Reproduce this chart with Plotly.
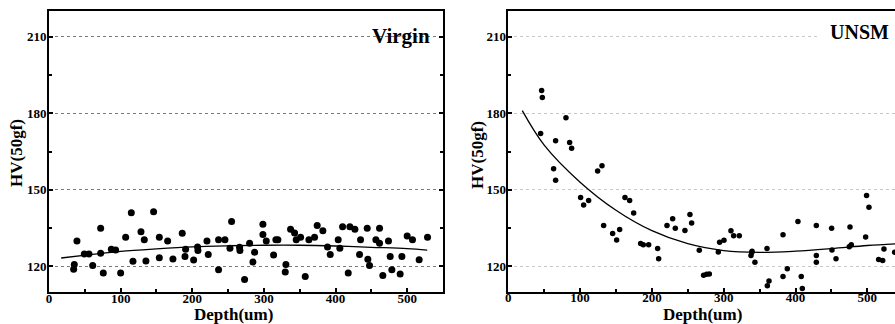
import plotly.graph_objects as go

# ---- Virgin data ----
virgin_depth = [34.4, 35.3, 39, 49.3, 55.8, 61, 72.1, 72.1, 75.8, 87, 93, 100, 107, 114.9, 117.2,
                128.4, 133, 135.3, 146, 154, 154, 165.6, 173, 186, 189.8, 190.7, 201.9, 207.4, 207.9,
                220.5, 222.3, 236.7, 236.7, 245.6, 252.6, 254.9, 266, 266.5, 273, 280, 284.7, 287,
                298.6, 298.6, 303.3, 313.5, 316.7, 319.5, 329.8, 330.7, 337.2, 342.8, 345.1, 351.2,
                357.7, 362.8, 370.7, 374.4, 382.3, 388.8, 392.6, 403.7, 406, 409.8, 417.7, 420, 427,
                434.9, 433.5, 444.2, 445.1, 447.4, 456.3, 461.4, 461.4, 466, 473.9, 476.3, 478.6,
                490.2, 492.6, 500, 507.4, 516.7, 528.4]
virgin_hv = [118.9, 120.8, 130, 124.9, 124.9, 120.4, 135, 125.2, 117.4, 126.7, 126.4, 117.4, 131.4,
             141, 122, 133.6, 130.5, 122.1, 141.4, 131.4, 123.4, 130, 122.9, 133, 123.9, 126.7, 122.5,
             127.6, 126.2, 130, 124.7, 130.5, 118.7, 130.5, 127.1, 137.6, 127.5, 126.2, 114.9, 129.1,
             121.7, 125.6, 136.5, 132.5, 130, 124.5, 130.5, 130.5, 117.8, 120.8, 134.6, 133.1, 130.5,
             131.4, 116.1, 130.5, 131.4, 136, 134, 127.6, 124.7, 130.5, 127.1, 135.5, 117.4, 135.5,
             134.6, 130.5, 124.7, 135, 122.8, 120.4, 130.5, 135, 129.1, 116.5, 130, 123.9, 118.7,
             117, 123.9, 131.9, 130.5, 122.6, 131.4]
virgin_fit_depth = [17, 60, 100, 150, 200, 250, 300, 350, 400, 450, 500, 528]
virgin_fit_hv = [123.3, 124.7, 125.9, 126.9, 127.7, 128.1, 128.3, 128.3, 128.0, 127.5, 127.0, 126.4]

# ---- UNSM data ----
unsm_depth = [46.4, 47.4, 45, 65.9, 63.1, 65.9, 80.3, 85.4, 88.2, 100.7, 104.9, 111.9, 124.4, 130.5,
              132.8, 145.3, 150.9, 155.1, 162.5, 169, 174.6, 184.3, 188, 195.5, 208, 209.4, 221,
              228.9, 232.6, 246, 253, 255.3, 266, 272, 276.2, 280, 292.5, 294.3, 300.4, 310.1,
              313.8, 321.7, 338, 339, 339.5, 343.5, 360.3, 360.8, 363.1, 382.6, 382.6, 388.6,
              403.4, 408, 409.5, 429, 429, 429, 450.3, 450.8, 456.4, 475.9, 474.9, 477.7, 497.7,
              499, 502.3, 515.8, 521.4, 523.2, 538.1]
unsm_hv = [188.9, 186.1, 172, 169.2, 158.2, 153.7, 178.2, 168.5, 166.3, 147, 144.1, 145.8, 157.4,
           159.4, 136, 132.9, 130.4, 134.5, 147, 145.8, 140.9, 129, 128.5, 128.5, 127, 123, 136,
           138.7, 135, 134.1, 140.3, 137, 126.3, 116.6, 116.9, 117, 125.7, 129.5, 130.3, 134, 132,
           132, 124.3, 125.5, 126, 121.6, 127, 112.4, 114.3, 132.4, 116.1, 119.1, 137.6, 116.1,
           111.4, 136, 124.3, 121.6, 135, 126.4, 123, 135.4, 127.7, 128.5, 131.5, 147.8, 143.2,
           122.7, 122.3, 126.8, 125.6]
unsm_fit_depth = [19.5, 50, 100, 150, 200, 250, 300, 350, 400, 450, 500, 540]
unsm_fit_hv = [181, 167.5, 153, 142, 134, 128.9, 126.2, 125.5, 126.0, 127.0, 128.2, 128.9]

x_ticks = [0, 100, 200, 300, 400, 500]
y_ticks = [120, 150, 180, 210]

W, H = 895, 324
FONT = "Liberation Serif"

fig = go.Figure()
fig.add_trace(go.Scatter(x=virgin_depth, y=virgin_hv, mode="markers",
                         marker=dict(color="black", size=7), xaxis="x", yaxis="y",
                         showlegend=False))
fig.add_trace(go.Scatter(x=virgin_fit_depth, y=virgin_fit_hv, mode="lines",
                         line=dict(color="black", width=1.3, shape="spline", smoothing=1.0),
                         xaxis="x", yaxis="y", showlegend=False))
fig.add_trace(go.Scatter(x=unsm_depth, y=unsm_hv, mode="markers",
                         marker=dict(color="black", size=5.5), xaxis="x2", yaxis="y2",
                         showlegend=False))
fig.add_trace(go.Scatter(x=unsm_fit_depth, y=unsm_fit_hv, mode="lines",
                         line=dict(color="black", width=1.3, shape="spline", smoothing=1.0),
                         xaxis="x2", yaxis="y2", showlegend=False))

tickfont = dict(family=FONT, size=13, color="black", weight="bold")

def xax(domain, rng, anchor, lw):
    return dict(domain=domain, range=rng, anchor=anchor, tickvals=x_ticks,
                ticks="inside", ticklen=4, tickwidth=1.5, tickcolor="black",
                minor=dict(dtick=50, tick0=0, ticks="inside", ticklen=3, tickwidth=1.5, tickcolor="black"),
                showline=True, linecolor="black", linewidth=lw, mirror=True,
                showgrid=False, zeroline=False, tickfont=tickfont, automargin=False,
                ticklabelstandoff=-7, fixedrange=True)

def yax(domain, anchor, mirror, lw, gridcolor, gridw):
    return dict(domain=domain, range=[110, 220], anchor=anchor, tickvals=y_ticks,
                ticks="inside", ticklen=4, tickwidth=1.5, tickcolor="black",
                minor=dict(dtick=15, tick0=120, ticks="inside", ticklen=3, tickwidth=1.5, tickcolor="black",
                           showgrid=False),
                showline=True, linecolor="black", linewidth=lw, mirror=mirror,
                showgrid=True, gridcolor=gridcolor, griddash="dot", gridwidth=gridw,
                zeroline=False, tickfont=tickfont, automargin=False,
                ticklabelstandoff=-2, fixedrange=True)

top, bottom = 11, 292
ydom = [1 - bottom / H, 1 - top / H]
l1, r1 = 49, 443
l2 = 508.3
x2_end = (W - l2) / 0.718

fig.update_layout(
    width=W, height=H, margin=dict(l=0, r=0, t=0, b=0, pad=0),
    paper_bgcolor="white", plot_bgcolor="white",
    xaxis=xax([l1 / W, r1 / W], [0, 550], "y", 2),
    yaxis=yax(ydom, "x", "ticks", 2, "#7a7a7a", 1.2),
    xaxis2=xax([l2 / W, 1.0], [0, x2_end], "y2", 1.5),
    yaxis2=yax(ydom, "x2", False, 1.5, "#c8c8c8", 1),
)

# white box behind the UNSM label that hides part of the 210 grid line
fig.add_shape(type="rect", xref="x2", yref="y2", x0=(817 - l2) / 0.718, x1=x2_end,
              y0=206, y1=214, fillcolor="white", line=dict(width=0), layer="above")

title_font = dict(family=FONT, size=17, color="black", weight="bold")
ann = [
    dict(text="Depth(um)", x=233 / W, y=1 - 314 / H, xref="paper", yref="paper",
         showarrow=False, font=title_font, xanchor="center", yanchor="middle"),
    dict(text="Depth(um)", x=702 / W, y=1 - 314 / H, xref="paper", yref="paper",
         showarrow=False, font=title_font, xanchor="center", yanchor="middle"),
    dict(text="HV(50gf)", x=16 / W, y=1 - 153 / H, xref="paper", yref="paper", textangle=-90,
         showarrow=False, font=title_font, xanchor="center", yanchor="middle"),
    dict(text="HV(50gf)", x=477 / W, y=1 - 155 / H, xref="paper", yref="paper", textangle=-90,
         showarrow=False, font=title_font, xanchor="center", yanchor="middle"),
    dict(text="Virgin", x=401 / W, y=1 - 36 / H, xref="paper", yref="paper",
         showarrow=False, font=dict(family=FONT, size=21, color="black", weight="bold"),
         xanchor="center", yanchor="middle"),
    dict(text="UNSM", x=859.5 / W, y=1 - 32 / H, xref="paper", yref="paper",
         showarrow=False, font=dict(family=FONT, size=20, color="black", weight="bold"),
         xanchor="center", yanchor="middle"),
]
fig.update_layout(annotations=ann)

fig.write_html("out.html", config=dict(displayModeBar=False),
               post_script="document.body.style.margin='0';document.body.style.overflow='hidden';")
